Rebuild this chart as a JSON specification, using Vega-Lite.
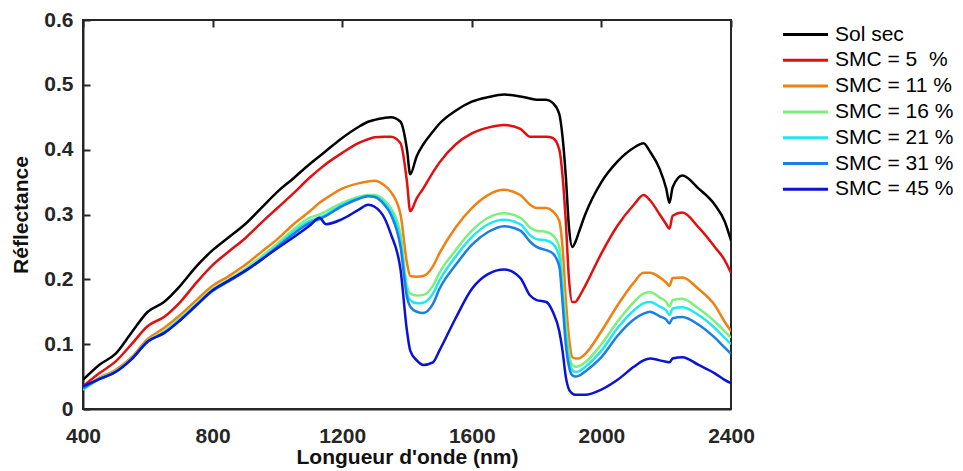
{
  "$schema": "https://vega.github.io/schema/vega-lite/v6.json",
  "width": 648,
  "height": 389,
  "autosize": {"type": "none"},
  "padding": {"left": 83, "top": 20, "right": 232, "bottom": 62},
  "background": "white",
  "config": {
    "view": {"stroke": "#262626", "strokeWidth": 2},
    "axis": {
      "labelFont": "Liberation Sans", "labelFontWeight": "bold", "labelFontSize": 21, "labelColor": "#262626",
      "titleFont": "Liberation Sans", "titleFontWeight": "bold", "titleFontSize": 21, "titleColor": "#111111",
      "domainColor": "#262626", "domainWidth": 2, "labelFlush": false,
      "ticks": false,
      "grid": true, "gridColor": "#262626", "gridWidth": 2, "gridOpacity": 1, "gridDash": [7, 2000]
    },
    "legend": {
      "labelFont": "Liberation Sans", "labelFontSize": 21, "labelColor": "#000000"
    }
  },
  "data": {"values": [
    {"w":400,"a":0.045,"b":0.035,"c":0.03,"d":0.03,"e":0.03,"f":0.032,"g":0.035},
    {"w":450,"a":0.068,"b":0.055,"c":0.048,"d":0.047,"e":0.046,"f":0.046,"g":0.046},
    {"w":500,"a":0.085,"b":0.073,"c":0.06,"d":0.058,"e":0.057,"f":0.057,"g":0.057},
    {"w":550,"a":0.118,"b":0.1,"c":0.08,"d":0.078,"e":0.077,"f":0.077,"g":0.077},
    {"w":600,"a":0.15,"b":0.128,"c":0.108,"d":0.105,"e":0.104,"f":0.104,"g":0.104},
    {"w":650,"a":0.165,"b":0.142,"c":0.125,"d":0.12,"e":0.118,"f":0.117,"g":0.117},
    {"w":700,"a":0.19,"b":0.165,"c":0.145,"d":0.14,"e":0.138,"f":0.137,"g":0.137},
    {"w":750,"a":0.22,"b":0.195,"c":0.168,"d":0.163,"e":0.161,"f":0.16,"g":0.16},
    {"w":800,"a":0.245,"b":0.222,"c":0.19,"d":0.185,"e":0.183,"f":0.182,"g":0.183},
    {"w":850,"a":0.265,"b":0.243,"c":0.205,"d":0.2,"e":0.198,"f":0.197,"g":0.198},
    {"w":900,"a":0.285,"b":0.263,"c":0.222,"d":0.216,"e":0.213,"f":0.212,"g":0.213},
    {"w":950,"a":0.31,"b":0.287,"c":0.242,"d":0.235,"e":0.232,"f":0.23,"g":0.23},
    {"w":1000,"a":0.335,"b":0.31,"c":0.262,"d":0.255,"e":0.252,"f":0.25,"g":0.248},
    {"w":1050,"a":0.356,"b":0.333,"c":0.285,"d":0.277,"e":0.273,"f":0.27,"g":0.265},
    {"w":1100,"a":0.378,"b":0.357,"c":0.305,"d":0.295,"e":0.29,"f":0.287,"g":0.283},
    {"w":1130,"a":0.39,"b":0.37,"c":0.318,"d":0.3,"e":0.295,"f":0.293,"g":0.295},
    {"w":1150,"a":0.398,"b":0.378,"c":0.325,"d":0.305,"e":0.3,"f":0.298,"g":0.285},
    {"w":1200,"a":0.418,"b":0.395,"c":0.34,"d":0.318,"e":0.315,"f":0.313,"g":0.293},
    {"w":1250,"a":0.435,"b":0.41,"c":0.348,"d":0.327,"e":0.325,"f":0.324,"g":0.307},
    {"w":1280,"a":0.443,"b":0.416,"c":0.351,"d":0.33,"e":0.329,"f":0.328,"g":0.315},
    {"w":1300,"a":0.446,"b":0.419,"c":0.352,"d":0.33,"e":0.328,"f":0.327,"g":0.312},
    {"w":1330,"a":0.449,"b":0.42,"c":0.345,"d":0.322,"e":0.318,"f":0.315,"g":0.295},
    {"w":1350,"a":0.45,"b":0.42,"c":0.335,"d":0.31,"e":0.305,"f":0.3,"g":0.27},
    {"w":1380,"a":0.443,"b":0.41,"c":0.3,"d":0.27,"e":0.26,"f":0.25,"g":0.215},
    {"w":1400,"a":0.4,"b":0.35,"c":0.225,"d":0.19,"e":0.18,"f":0.172,"g":0.12},
    {"w":1410,"a":0.362,"b":0.305,"c":0.205,"d":0.178,"e":0.168,"f":0.158,"g":0.09},
    {"w":1430,"a":0.39,"b":0.325,"c":0.204,"d":0.175,"e":0.163,"f":0.15,"g":0.075},
    {"w":1450,"a":0.408,"b":0.34,"c":0.205,"d":0.176,"e":0.164,"f":0.148,"g":0.068},
    {"w":1480,"a":0.428,"b":0.365,"c":0.22,"d":0.19,"e":0.178,"f":0.162,"g":0.072},
    {"w":1500,"a":0.44,"b":0.38,"c":0.24,"d":0.21,"e":0.198,"f":0.185,"g":0.09},
    {"w":1550,"a":0.46,"b":0.408,"c":0.28,"d":0.245,"e":0.235,"f":0.222,"g":0.14},
    {"w":1600,"a":0.474,"b":0.425,"c":0.31,"d":0.275,"e":0.265,"f":0.253,"g":0.185},
    {"w":1650,"a":0.481,"b":0.434,"c":0.33,"d":0.295,"e":0.285,"f":0.273,"g":0.208},
    {"w":1700,"a":0.485,"b":0.438,"c":0.338,"d":0.302,"e":0.292,"f":0.282,"g":0.215},
    {"w":1750,"a":0.482,"b":0.432,"c":0.33,"d":0.295,"e":0.285,"f":0.275,"g":0.202},
    {"w":1780,"a":0.479,"b":0.42,"c":0.315,"d":0.28,"e":0.268,"f":0.258,"g":0.175},
    {"w":1800,"a":0.477,"b":0.42,"c":0.31,"d":0.275,"e":0.262,"f":0.25,"g":0.168},
    {"w":1830,"a":0.477,"b":0.42,"c":0.31,"d":0.273,"e":0.26,"f":0.245,"g":0.165},
    {"w":1850,"a":0.472,"b":0.418,"c":0.305,"d":0.268,"e":0.255,"f":0.24,"g":0.15},
    {"w":1870,"a":0.455,"b":0.4,"c":0.29,"d":0.25,"e":0.235,"f":0.22,"g":0.12},
    {"w":1880,"a":0.42,"b":0.36,"c":0.25,"d":0.2,"e":0.18,"f":0.165,"g":0.09},
    {"w":1890,"a":0.36,"b":0.29,"c":0.17,"d":0.13,"e":0.115,"f":0.1,"g":0.05},
    {"w":1900,"a":0.28,"b":0.2,"c":0.11,"d":0.085,"e":0.075,"f":0.065,"g":0.03},
    {"w":1910,"a":0.25,"b":0.165,"c":0.08,"d":0.068,"e":0.06,"f":0.052,"g":0.024},
    {"w":1920,"a":0.258,"b":0.165,"c":0.078,"d":0.065,"e":0.057,"f":0.05,"g":0.022},
    {"w":1930,"a":0.272,"b":0.172,"c":0.078,"d":0.066,"e":0.058,"f":0.051,"g":0.022},
    {"w":1950,"a":0.3,"b":0.19,"c":0.085,"d":0.072,"e":0.065,"f":0.058,"g":0.022},
    {"w":2000,"a":0.35,"b":0.24,"c":0.12,"d":0.1,"e":0.09,"f":0.08,"g":0.03},
    {"w":2050,"a":0.382,"b":0.283,"c":0.16,"d":0.135,"e":0.125,"f":0.113,"g":0.045},
    {"w":2100,"a":0.403,"b":0.315,"c":0.195,"d":0.165,"e":0.152,"f":0.138,"g":0.065},
    {"w":2130,"a":0.41,"b":0.33,"c":0.21,"d":0.178,"e":0.163,"f":0.147,"g":0.075},
    {"w":2150,"a":0.397,"b":0.322,"c":0.21,"d":0.18,"e":0.165,"f":0.15,"g":0.078},
    {"w":2180,"a":0.37,"b":0.3,"c":0.203,"d":0.172,"e":0.158,"f":0.143,"g":0.075},
    {"w":2200,"a":0.34,"b":0.285,"c":0.195,"d":0.165,"e":0.152,"f":0.138,"g":0.073},
    {"w":2210,"a":0.318,"b":0.278,"c":0.19,"d":0.158,"e":0.145,"f":0.132,"g":0.072},
    {"w":2220,"a":0.342,"b":0.298,"c":0.202,"d":0.168,"e":0.155,"f":0.14,"g":0.078},
    {"w":2250,"a":0.36,"b":0.303,"c":0.203,"d":0.17,"e":0.157,"f":0.142,"g":0.08},
    {"w":2300,"a":0.34,"b":0.28,"c":0.185,"d":0.155,"e":0.145,"f":0.13,"g":0.068},
    {"w":2350,"a":0.315,"b":0.25,"c":0.16,"d":0.135,"e":0.125,"f":0.11,"g":0.055},
    {"w":2380,"a":0.29,"b":0.23,"c":0.135,"d":0.12,"e":0.11,"f":0.095,"g":0.045},
    {"w":2400,"a":0.26,"b":0.21,"c":0.12,"d":0.11,"e":0.1,"f":0.085,"g":0.04}
  ]},
  "transform": [
    {"fold": ["a","b","c","d","e","f","g"], "as": ["k","r"]}
  ],
  "mark": {"type": "line", "strokeWidth": 2.5, "strokeJoin": "round", "interpolate": "monotone", "clip": true},
  "encoding": {
    "x": {
      "field": "w", "type": "quantitative",
      "scale": {"domain": [400, 2400], "nice": false},
      "axis": {"values": [400, 800, 1200, 1600, 2000, 2400], "format": "d", "title": "Longueur d'onde (nm)", "labelPadding": 16, "titlePadding": 0}
    },
    "y": {
      "field": "r", "type": "quantitative",
      "scale": {"domain": [0, 0.6], "nice": false, "zero": true},
      "axis": {"values": [0, 0.1, 0.2, 0.3, 0.4, 0.5, 0.6], "format": "~g", "title": "Réflectance", "labelPadding": 10, "titlePadding": 12}
    },
    "color": {
      "field": "k", "type": "nominal",
      "scale": {
        "domain": ["a","b","c","d","e","f","g"],
        "range": ["#000000", "#e01010", "#f08010", "#7cf07c", "#22e6f0", "#1a7ee6", "#0a12d6"]
      },
      "legend": {
        "title": null,
        "orient": "none",
        "legendX": 712,
        "legendY": 4,
        "padding": 0,
        "symbolType": "M-4,0H4",
        "symbolSize": 127,
        "symbolStrokeWidth": 3,
        "labelOffset": 19,
        "rowPadding": 3.8,
        "labelExpr": "{'a':'Sol sec','b':'SMC = 5\u00a0 %','c':'SMC = 11 %','d':'SMC = 16 %','e':'SMC = 21 %','f':'SMC = 31 %','g':'SMC = 45 %'}[datum.value]"
      }
    }
  }
}
